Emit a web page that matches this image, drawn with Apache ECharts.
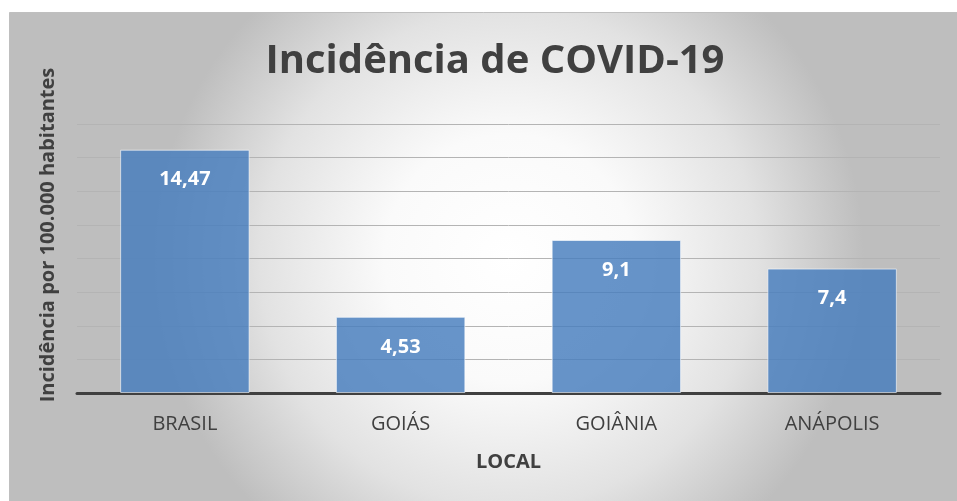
<!DOCTYPE html>
<html>
<head>
<meta charset="utf-8">
<script src="https://cdn.jsdelivr.net/npm/echarts@6/dist/echarts.min.js"></script>
<style>
html, body { margin: 0; padding: 0; background: #fff; }
#chart { width: 957px; height: 501px; }
</style>
</head>
<body>
<div id="chart"></div>
<script>
var locais = ['BRASIL', 'GOIÁS', 'GOIÂNIA', 'ANÁPOLIS'];
var incidencia = [14.47, 4.53, 9.1, 7.4];

var myChart = echarts.init(document.getElementById('chart'));
var fonte = '"Open Sans", "Noto Sans", sans-serif';

var option = {
    animation: false,
    graphic: [
        {
            type: 'rect',
            z: -10,
            shape: { x: 9.5, y: 12.5, width: 960, height: 492 },
            style: {
                fill: {
                    type: 'radial', x: 0.52, y: 0.5, r: 0.72,
                    colorStops: [
                        { offset: 0, color: '#ffffff' },
                        { offset: 0.35, color: '#fafafa' },
                        { offset: 0.7, color: '#e2e2e2' },
                        { offset: 1, color: '#bebebe' }
                    ]
                },
                stroke: '#bfbfbf',
                lineWidth: 1
            }
        },
        {
            // titulo do eixo y, posicionado a mao como no original
            type: 'text',
            x: 48,
            y: 235,
            rotation: Math.PI / 2,
            style: {
                text: 'Incidência por 100.000 habitantes',
                fontFamily: fonte,
                fontSize: 20,
                fontWeight: 'bold',
                fill: '#404040',
                align: 'center',
                verticalAlign: 'middle'
            }
        }
    ],
    title: {
        text: 'Incidência de COVID-19',
        left: 490,
        textAlign: 'center',
        top: 37,
        textStyle: {
            fontFamily: fonte,
            fontSize: 40,
            fontWeight: 'bold',
            color: '#404040'
        }
    },
    grid: {
        left: 77,
        right: 17,
        top: 124,
        bottom: 108
    },
    xAxis: {
        type: 'category',
        data: locais,
        name: 'LOCAL',
        nameLocation: 'middle',
        nameGap: 59,
        nameTextStyle: {
            fontFamily: fonte,
            fontSize: 20,
            fontWeight: 'bold',
            color: '#404040'
        },
        axisTick: { show: false },
        axisLine: { lineStyle: { color: '#404040', width: 3 } },
        axisLabel: {
            margin: 21,
            fontFamily: fonte,
            fontSize: 20,
            color: '#404040'
        }
    },
    yAxis: {
        type: 'value',
        min: 0,
        max: 16,
        interval: 2,
        axisLine: { show: false },
        axisTick: { show: false },
        axisLabel: { show: false },
        splitLine: { lineStyle: { color: '#b4b4b4', width: 1 } }
    },
    series: [
        {
            type: 'bar',
            data: incidencia,
            barWidth: '60%',
            itemStyle: {
                color: 'rgba(70,124,189,0.82)',
                borderColor: 'rgba(255,255,255,0.6)',
                borderWidth: 1
            },
            label: {
                show: true,
                position: 'insideTop',
                distance: 20,
                fontFamily: fonte,
                fontSize: 20,
                fontWeight: 'bold',
                color: '#ffffff',
                formatter: function (p) {
                    return String(p.value).replace('.', ',');
                }
            }
        }
    ]
};

myChart.setOption(option);
</script>
</body>
</html>
